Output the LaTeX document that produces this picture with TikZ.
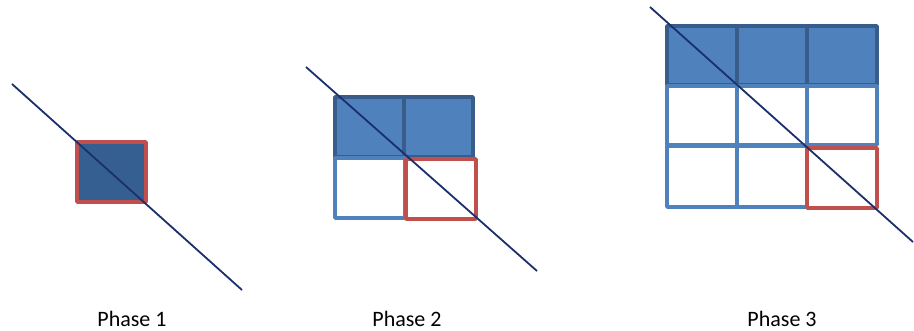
\documentclass[tikz,border=0pt]{standalone}
\usepackage{fontspec}
\setmainfont{Carlito}
\definecolor{navy}{HTML}{1A2F6B}
\definecolor{cellfill}{HTML}{4F81BD}
\definecolor{celldark}{HTML}{385D8A}
\definecolor{oneFill}{HTML}{365F91}
\definecolor{redline}{HTML}{C0504D}
\begin{document}
\begin{tikzpicture}[x=1pt,y=-1pt,
  filledcell/.style={draw=celldark,fill=cellfill,line width=3.5pt,line join=round},
  emptycell/.style={draw=cellfill,fill=white,line width=3.5pt,line join=round},
  redcell/.style={draw=redline,line width=3.5pt,line join=round},
  diag/.style={draw=navy,line width=1.8pt},
  label/.style={anchor=base,font=\fontsize{22}{26}\selectfont,inner sep=0pt}]
\useasboundingbox (0,0) rectangle (914,330);
% Phase 1
\draw[redcell,fill=oneFill] (77,142) rectangle (146,202);
\coordinate (a1) at (12,84);
\coordinate (b1) at (242,290);
\draw[diag] (a1) -- (b1);
\node[label] (p1) at (132,326) {Phase 1};
% Phase 2
\draw[filledcell] (335,97) rectangle (404,157);
\draw[filledcell] (404,97) rectangle (473,157);
\draw[emptycell] (335,158) rectangle (405,218);
\draw[redcell,fill=white] (406,159) rectangle (476,219);
\coordinate (a2) at (306,67);
\coordinate (b2) at (537,271);
\draw[diag] (a2) -- (b2);
\node[label] (p2) at (407,326) {Phase 2};
% Phase 3
\foreach \x in {667,737,807}{
  \draw[filledcell] (\x,26) rectangle ++(70,59);
}
\foreach \x in {667,737,807}{
  \draw[emptycell] (\x,86) rectangle ++(70,59);
}
\foreach \x in {667,737}{
  \draw[emptycell] (\x,146) rectangle ++(70,61);
}
\draw[redcell,fill=white] (807,148) rectangle (877,208);
\coordinate (a3) at (650,7);
\coordinate (b3) at (913,242);
\draw[diag] (a3) -- (b3);
\node[label] (p3) at (782,326) {Phase 3};
\end{tikzpicture}
\end{document}
